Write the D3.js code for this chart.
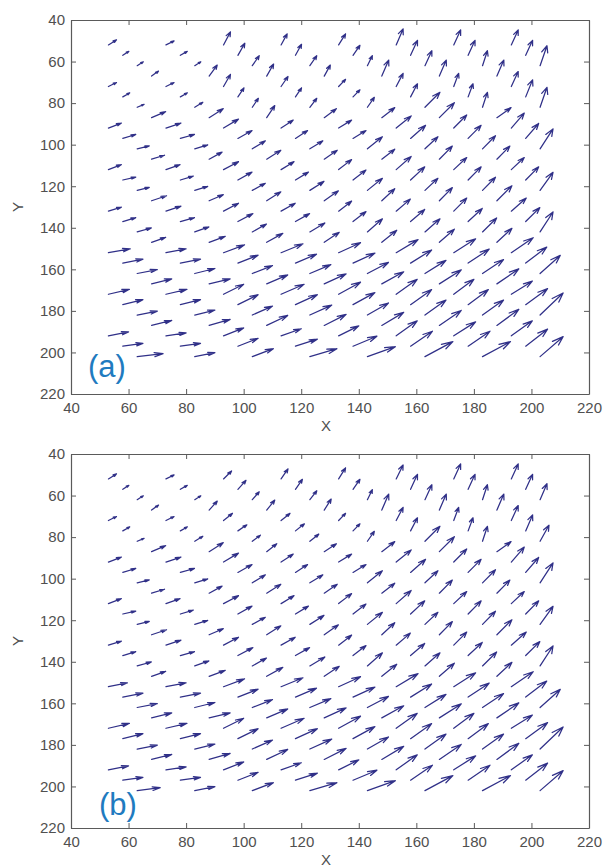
<!DOCTYPE html>
<html><head><meta charset="utf-8">
<script src="https://cdn.jsdelivr.net/npm/d3@7"></script>
<style>body{margin:0;background:#fff} svg{display:block}</style>
</head><body><svg id="chart" width="610" height="868"></svg>
<script>
// Axis ticks
const xTicks = [40,60,80,100,120,140,160,180,200,220];
const yTicks = [40,60,80,100,120,140,160,180,200,220];
// Lattice of arrow tails (X columns and Y rows); row b holds arrows at columns b%4, b%4+4, ...
const gridX = [53,58,63,68,73,78,83,88,93,98,103,108,113,118,123,128,133,138,143,148,153,158,163,168,173,178,183,188,193,198,203];
const gridY = [52,57,62,67,72,77,82,87,92,97,102,107,112,117,122,127,132,137,142,147,152,157,162,167,172,177,182,187,192,197,202];

// Panel (a): [U,V] per arrow, row by row (V negative = towards smaller Y)
const rowsA = [
 [[2.8,-2.4],[2.8,-1.9],[2.4,-6.3],[2.1,-5.3],[2.4,-5.3],[2.4,-7.7],[2.4,-7.2],[2.4,-7.2]],
 [[2.1,-1.9],[2.4,-1.9],[2.4,-5.8],[2.1,-5.3],[2.4,-4.8],[2.4,-7.2],[2.4,-7.2],[2.4,-7.2]],
 [[2.1,-1.9],[2.1,-1.9],[2.4,-4.8],[2.4,-4.8],[1.7,-4.8],[2.4,-7.2],[1.7,-7.2],[2.4,-9.6]],
 [[2.4,-2.4],[2.8,-5.3],[2.4,-5.8],[2.1,-5.3],[2.4,-7.7],[2.4,-7.7],[2.4,-7.7]],
 [[2.8,-1.9],[2.8,-1.9],[2.4,-5.8],[2.4,-4.8],[2.4,-3.4],[2.4,-6.3],[1.7,-6.3],[2.4,-7.2]],
 [[2.4,-1.9],[2.4,-1.9],[2.1,-4.3],[2.1,-4.3],[2.4,-3.4],[2.4,-6.3],[1.7,-6.3],[2.4,-8.2]],
 [[2.4,-1.4],[2.8,-2.4],[2.1,-4.3],[2.4,-4.3],[2.4,-4.8],[5.2,-7.2],[1.7,-7.2],[2.4,-9.6]],
 [[4.9,-2.9],[4.9,-4.3],[2.8,-5.8],[4.2,-4.3],[4.5,-4.8],[5.2,-7.2],[4.9,-4.8]],
 [[4.5,-2.4],[5.2,-2.4],[5.2,-4.3],[4.2,-3.8],[4.5,-3.8],[5.2,-5.8],[4.5,-6.3],[4.5,-7.2]],
 [[4.5,-1.9],[4.9,-1.9],[4.9,-3.8],[4.2,-3.8],[4.5,-3.8],[5.2,-6.3],[4.5,-6.3],[4.5,-7.2]],
 [[4.2,-1.4],[4.5,-1.9],[4.5,-3.8],[4.5,-3.8],[5.2,-5.8],[4.5,-5.8],[4.5,-6.3],[4.5,-9.6]],
 [[4.5,-1.9],[4.5,-3.4],[4.9,-4.3],[4.5,-4.3],[4.5,-4.8],[4.5,-6.3],[4.5,-6.3]],
 [[4.5,-2.4],[4.9,-2.4],[5.2,-3.8],[4.5,-3.8],[4.5,-4.8],[5.2,-6.3],[4.5,-5.8],[4.5,-5.8]],
 [[4.5,-1.4],[4.5,-1.9],[4.9,-3.8],[4.5,-3.8],[4.5,-4.8],[4.9,-6.3],[4.5,-6.3],[4.5,-6.3]],
 [[4.2,-1.4],[4.5,-1.9],[4.5,-3.4],[4.9,-4.3],[5.2,-5.8],[4.5,-5.8],[4.5,-6.3],[4.5,-8.7]],
 [[5.2,-2.4],[4.9,-2.9],[4.9,-4.3],[4.9,-4.8],[4.5,-5.8],[4.5,-6.3],[5.2,-7.2]],
 [[4.5,-1.9],[5.2,-2.4],[5.2,-3.8],[4.9,-3.8],[4.5,-4.8],[4.9,-5.8],[4.5,-6.3],[5.2,-6.3]],
 [[4.5,-1.9],[4.9,-1.9],[5.2,-3.8],[4.9,-3.8],[4.5,-4.8],[4.9,-5.8],[4.9,-6.3],[4.9,-6.7]],
 [[4.9,-1.9],[4.9,-2.4],[4.9,-3.8],[5.2,-4.3],[5.2,-6.3],[5.2,-6.3],[4.9,-6.7],[4.5,-9.6]],
 [[4.9,-2.4],[5.6,-2.9],[5.6,-4.3],[5.2,-4.8],[5.2,-5.8],[5.2,-6.3],[5.2,-6.7]],
 [[7.6,-1.9],[7.0,-1.9],[7.3,-3.8],[7.6,-4.3],[7.6,-4.8],[7.6,-6.3],[7.6,-6.7],[7.6,-7.2]],
 [[7.0,-1.9],[7.0,-1.9],[7.0,-3.8],[7.3,-4.3],[7.6,-4.8],[7.3,-6.3],[7.3,-6.7],[7.3,-7.7]],
 [[7.0,-1.9],[7.0,-2.4],[7.0,-3.8],[7.3,-4.3],[7.3,-5.3],[7.3,-6.3],[7.3,-6.7],[7.0,-8.7]],
 [[7.0,-2.4],[7.3,-2.4],[7.3,-4.3],[7.6,-4.8],[7.6,-5.8],[7.6,-6.7],[7.6,-7.2]],
 [[7.3,-2.4],[7.3,-2.4],[7.0,-4.8],[8.0,-4.8],[7.6,-5.8],[7.3,-7.2],[7.0,-7.2],[7.3,-6.3]],
 [[7.0,-2.4],[7.0,-2.4],[7.0,-4.8],[7.6,-4.8],[7.6,-5.8],[7.3,-7.2],[7.0,-7.2],[7.6,-7.7]],
 [[7.0,-1.9],[7.0,-2.4],[7.0,-4.3],[7.6,-4.8],[7.3,-5.8],[7.3,-7.2],[7.3,-7.2],[8.0,-10.6]],
 [[7.0,-2.4],[7.3,-2.9],[7.3,-4.8],[7.6,-5.3],[7.6,-6.3],[7.6,-7.2],[7.6,-7.7]],
 [[7.0,-1.9],[7.0,-1.4],[7.0,-3.8],[7.0,-3.4],[7.0,-4.8],[7.3,-7.2],[7.6,-6.7],[7.3,-7.2]],
 [[7.0,-1.4],[7.0,-1.4],[7.0,-3.8],[7.6,-3.4],[8.3,-4.8],[7.6,-7.2],[7.6,-7.2],[7.6,-8.2]],
 [[9.0,-1.4],[7.0,-1.9],[7.3,-3.8],[9.4,-3.8],[9.7,-4.8],[9.7,-7.2],[9.7,-7.2],[8.0,-9.6]]
];

// Panel (b)
const rowsB = [
 [[2.8,-2.4],[2.8,-1.9],[2.8,-3.8],[2.4,-4.8],[2.4,-5.3],[2.4,-6.7],[2.4,-7.2],[2.4,-7.2]],
 [[2.1,-1.9],[2.4,-1.9],[2.8,-4.3],[2.4,-4.8],[2.4,-4.8],[2.4,-7.2],[2.4,-7.2],[2.4,-7.2]],
 [[2.1,-1.9],[2.1,-1.9],[2.4,-3.8],[2.4,-4.3],[1.7,-4.8],[2.4,-7.2],[1.7,-7.2],[2.4,-7.7]],
 [[2.4,-2.4],[2.8,-4.3],[2.8,-4.8],[2.4,-5.3],[2.4,-7.7],[2.4,-7.7],[2.4,-7.7]],
 [[2.8,-1.9],[2.8,-1.9],[3.1,-3.4],[3.1,-3.4],[2.4,-3.4],[2.4,-6.3],[1.7,-6.3],[2.4,-7.2]],
 [[2.4,-1.9],[2.4,-1.9],[3.1,-2.9],[3.1,-3.4],[2.4,-3.4],[2.4,-6.3],[1.7,-6.3],[2.4,-7.7]],
 [[2.4,-1.4],[2.8,-2.4],[2.8,-2.9],[3.1,-3.4],[2.4,-4.8],[5.2,-7.2],[1.7,-7.2],[3.1,-7.7]],
 [[4.9,-2.9],[4.9,-4.3],[3.5,-3.8],[4.2,-3.8],[4.5,-4.8],[5.2,-7.2],[4.9,-4.8]],
 [[4.5,-2.4],[5.2,-2.4],[5.2,-4.3],[4.2,-3.8],[4.5,-3.8],[5.2,-5.8],[4.5,-6.3],[4.5,-7.2]],
 [[4.5,-1.9],[4.9,-1.9],[4.9,-3.8],[4.2,-3.8],[4.5,-3.8],[5.2,-6.3],[4.5,-6.3],[4.5,-7.2]],
 [[4.2,-1.4],[4.5,-1.9],[4.5,-3.8],[4.5,-3.8],[5.2,-5.8],[4.5,-5.8],[4.5,-6.3],[4.5,-9.6]],
 [[4.5,-1.9],[4.5,-3.4],[4.9,-4.3],[4.5,-4.3],[4.5,-4.8],[4.5,-6.3],[4.5,-6.3]],
 [[4.5,-2.4],[4.9,-2.4],[5.2,-3.8],[4.5,-3.8],[4.5,-4.8],[5.2,-6.3],[4.5,-5.8],[4.5,-5.8]],
 [[4.5,-1.4],[4.5,-1.9],[4.9,-3.8],[4.5,-3.8],[4.5,-4.8],[4.9,-6.3],[4.5,-6.3],[4.5,-6.3]],
 [[4.2,-1.4],[4.5,-1.9],[4.5,-3.4],[4.9,-4.3],[5.2,-5.8],[4.5,-5.8],[4.5,-6.3],[4.5,-8.7]],
 [[5.2,-2.4],[4.9,-2.9],[4.9,-4.3],[4.9,-4.8],[4.5,-5.8],[4.5,-6.3],[5.2,-7.2]],
 [[4.5,-1.9],[5.2,-2.4],[5.2,-3.8],[4.9,-3.8],[4.5,-4.8],[4.9,-5.8],[4.5,-6.3],[5.2,-6.3]],
 [[4.5,-1.9],[4.9,-1.9],[5.2,-3.8],[4.9,-3.8],[4.5,-4.8],[4.9,-5.8],[4.9,-6.3],[4.9,-6.7]],
 [[4.9,-1.9],[4.9,-2.4],[4.9,-3.8],[5.2,-4.3],[5.2,-6.3],[5.2,-6.3],[4.9,-6.7],[4.5,-9.6]],
 [[4.9,-2.4],[5.6,-2.9],[5.6,-4.3],[5.2,-4.8],[5.2,-5.8],[5.2,-6.3],[5.2,-6.7]],
 [[6.6,-1.9],[7.0,-1.9],[7.3,-3.8],[7.6,-4.3],[7.6,-4.8],[7.6,-6.3],[7.6,-6.7],[7.6,-7.2]],
 [[7.0,-1.9],[7.0,-1.9],[7.0,-3.8],[7.3,-4.3],[7.6,-4.8],[7.3,-6.3],[7.3,-6.7],[7.3,-7.7]],
 [[7.0,-1.9],[7.0,-2.4],[7.0,-3.8],[7.3,-4.3],[7.3,-5.3],[7.3,-6.3],[7.3,-6.7],[7.0,-8.7]],
 [[7.0,-2.4],[7.3,-2.4],[7.3,-4.3],[7.6,-4.8],[7.6,-5.8],[7.6,-6.7],[7.6,-7.2]],
 [[7.3,-2.4],[7.3,-2.4],[7.0,-4.8],[8.0,-4.8],[7.6,-5.8],[7.3,-7.2],[7.0,-7.2],[7.3,-6.3]],
 [[7.0,-2.4],[7.0,-2.4],[7.0,-4.8],[7.6,-4.8],[7.6,-5.8],[7.3,-7.2],[7.0,-7.2],[7.6,-7.7]],
 [[7.0,-1.9],[7.0,-2.4],[7.0,-4.3],[7.6,-4.8],[7.3,-5.8],[7.3,-7.2],[7.3,-7.2],[8.0,-10.6]],
 [[7.0,-2.4],[7.3,-2.9],[7.3,-4.8],[7.6,-5.3],[7.6,-6.3],[7.6,-7.2],[7.6,-7.7]],
 [[7.0,-1.9],[7.0,-1.4],[7.0,-3.8],[7.0,-3.4],[7.0,-4.8],[7.3,-7.2],[7.6,-6.7],[7.3,-7.2]],
 [[7.0,-1.4],[7.0,-1.4],[7.0,-3.8],[7.6,-3.4],[8.3,-4.8],[7.6,-7.2],[7.6,-7.2],[7.6,-8.2]],
 [[8.0,-1.4],[7.0,-1.9],[7.3,-3.8],[9.4,-3.8],[9.7,-4.8],[9.7,-7.2],[9.7,-7.2],[8.0,-9.6]]
];

const panels = [
  {label: "(a)", rows: rowsA},
  {label: "(b)", rows: rowsB}
];

const svg = d3.select("#chart");
const L = 71, R = 589, H = 374;
const tops = [20, 454];
const axisColor = "#5a5a5a";
const textColor = "#505050";
const arrowColor = "#303088";
const fontFam = "'Liberation Sans', Arial, sans-serif";

panels.forEach((p, pi) => {
  const top = tops[pi];
  const x = d3.scaleLinear().domain([40,220]).range([L,R]);
  const y = d3.scaleLinear().domain([40,220]).range([top, top+H]);
  const g = svg.append("g");

  // arrows
  const arrows = [];
  p.rows.forEach((row, b) => {
    row.forEach((uv, m) => {
      const a = (b % 4) + 4*m;
      arrows.push({X: gridX[a], Y: gridY[b], U: uv[0], V: uv[1]});
    });
  });
  const alpha = 0.33, beta = 0.33;
  const ag = g.append("g").attr("stroke", arrowColor).attr("stroke-width", 1.25)
    .attr("fill", "none").attr("stroke-linecap", "round").attr("stroke-linejoin","round");
  arrows.forEach(d => {
    const x1 = d.X + d.U, y1 = d.Y + d.V;
    const hx1 = x1 - alpha*(d.U + beta*d.V), hy1 = y1 - alpha*(d.V - beta*d.U);
    const hx2 = x1 - alpha*(d.U - beta*d.V), hy2 = y1 - alpha*(d.V + beta*d.U);
    ag.append("path").attr("d",
      `M${x(d.X)},${y(d.Y)}L${x(x1)},${y(y1)}M${x(hx1)},${y(hy1)}L${x(x1)},${y(y1)}L${x(hx2)},${y(hy2)}`);
  });

  // axes (ticks inward, box on)
  const fmt = d3.format("d");
  const gx = g.append("g").attr("transform", `translate(0,${top+H})`)
    .call(d3.axisBottom(x).tickValues(xTicks).tickFormat(fmt).tickSizeInner(-5).tickSizeOuter(0).tickPadding(8.5));
  const gt = g.append("g").attr("transform", `translate(0,${top})`)
    .call(d3.axisTop(x).tickValues(xTicks).tickFormat("").tickSizeInner(-5).tickSizeOuter(0));
  const gy = g.append("g").attr("transform", `translate(${L},0)`)
    .call(d3.axisLeft(y).tickValues(yTicks).tickFormat(fmt).tickSizeInner(-5).tickSizeOuter(0).tickPadding(6));
  const gr = g.append("g").attr("transform", `translate(${R},0)`)
    .call(d3.axisRight(y).tickValues(yTicks).tickFormat("").tickSizeInner(-5).tickSizeOuter(0));
  [gx, gt, gy, gr].forEach(a => {
    a.select(".domain").attr("stroke", axisColor).attr("stroke-width", 1.2);
    a.selectAll(".tick line").attr("stroke", axisColor);
    a.selectAll("text").attr("fill", textColor).attr("font-size", 15).attr("font-family", fontFam);
  });

  // axis labels
  g.append("text").attr("x", (L+R)/2 - 4).attr("y", top+H+37).attr("text-anchor","middle")
    .attr("font-size", 15).attr("font-family", fontFam).attr("fill", textColor).text("X");
  g.append("text").attr("transform", `translate(23,${top+H/2}) rotate(-90)`).attr("text-anchor","middle")
    .attr("font-size", 15).attr("font-family", fontFam).attr("fill", textColor).text("Y");

  // panel label
  g.append("text").attr("x", pi === 0 ? 88 : 99).attr("y", pi === 0 ? 377 : 815)
    .attr("font-size", 31).attr("font-family", fontFam).attr("fill", "#1f7bc0").text(p.label);
});
</script>
</body></html>
